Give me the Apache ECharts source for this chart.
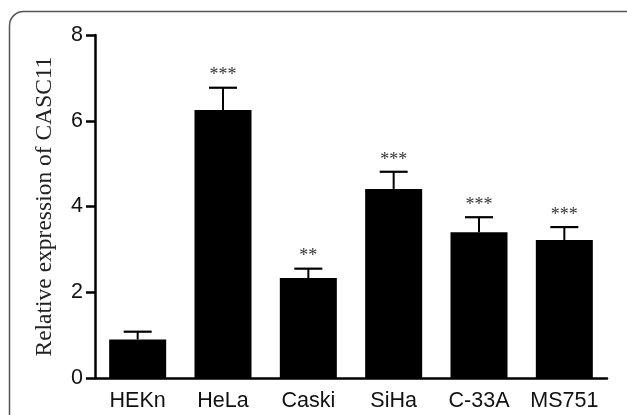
<!DOCTYPE html>
<html><head><meta charset="utf-8">
<script src="https://cdn.jsdelivr.net/npm/echarts@6/dist/echarts.min.js"></script>
<style>html,body{margin:0;padding:0;background:#fff}#c{width:627px;height:415px}</style>
</head><body><div id="c"></div>
<script>
var categories = ['HEKn', 'HeLa', 'Caski', 'SiHa', 'C-33A', 'MS751'];
var means = [0.90, 6.25, 2.33, 4.41, 3.40, 3.22];
var errors = [0.18, 0.52, 0.22, 0.40, 0.35, 0.30];
var signif = ['', '***', '**', '***', '***', '***'];
var yTicks = [0, 2, 4, 6, 8];

var chart = echarts.init(document.getElementById('c'), null, {renderer: 'canvas'});
var errData = categories.map(function (c, i) { return [i, means[i], means[i] + errors[i], signif[i]]; });
chart.setOption({
  animation: false,
  graphic: [{
    type: 'rect', z: -1,
    shape: {x: 9.5, y: 11.5, width: 640, height: 430, r: 14},
    style: {fill: 'none', stroke: '#555', lineWidth: 1.5}
  }],
  grid: {left: 95, right: 20, top: 35, bottom: 37},
  xAxis: {
    type: 'category', data: categories,
    axisLine: {lineStyle: {color: '#000', width: 2.5}},
    axisTick: {alignWithLabel: true, length: 9, lineStyle: {color: '#000', width: 2.5}},
    axisLabel: {interval: 0, color: '#111', fontFamily: 'Liberation Sans, Arial', fontSize: 21.5, margin: 12}
  },
  yAxis: {
    type: 'value', min: yTicks[0], max: yTicks[yTicks.length - 1], interval: 2,
    name: 'Relative expression of CASC11', nameLocation: 'middle', nameGap: 38,
    nameTextStyle: {fontFamily: 'Liberation Serif, Times New Roman', fontSize: 23.5, color: '#222'},
    axisLine: {show: true, lineStyle: {color: '#000', width: 2.5}},
    axisTick: {show: true, length: 9, lineStyle: {color: '#000', width: 2.5}},
    axisLabel: {color: '#111', fontFamily: 'Liberation Sans, Arial', fontSize: 21.5, margin: 12},
    splitLine: {show: false}
  },
  series: [{
    type: 'bar', data: means, barWidth: 57,
    itemStyle: {color: '#000'}
  }, {
    type: 'custom', data: errData, z: 3,
    renderItem: function (params, api) {
      var x = api.value(0);
      var top = api.coord([x, api.value(1)]);
      var hi = api.coord([x, api.value(2)]);
      var cap = 14;
      var children = [
        {type: 'line', shape: {x1: top[0], y1: top[1], x2: hi[0], y2: hi[1]}, style: {stroke: '#000', lineWidth: 2}},
        {type: 'line', shape: {x1: hi[0] - cap, y1: hi[1], x2: hi[0] + cap, y2: hi[1]}, style: {stroke: '#000', lineWidth: 2.2}}
      ];
      var s = signif[params.dataIndex];
      if (s) {
        children.push({type: 'text', style: {text: s, x: hi[0], y: hi[1] - 3, textAlign: 'center', textVerticalAlign: 'bottom',
          font: '18px "Liberation Serif", serif', fill: '#333'}});
      }
      return {type: 'group', children: children};
    }
  }]
});
</script></body></html>
